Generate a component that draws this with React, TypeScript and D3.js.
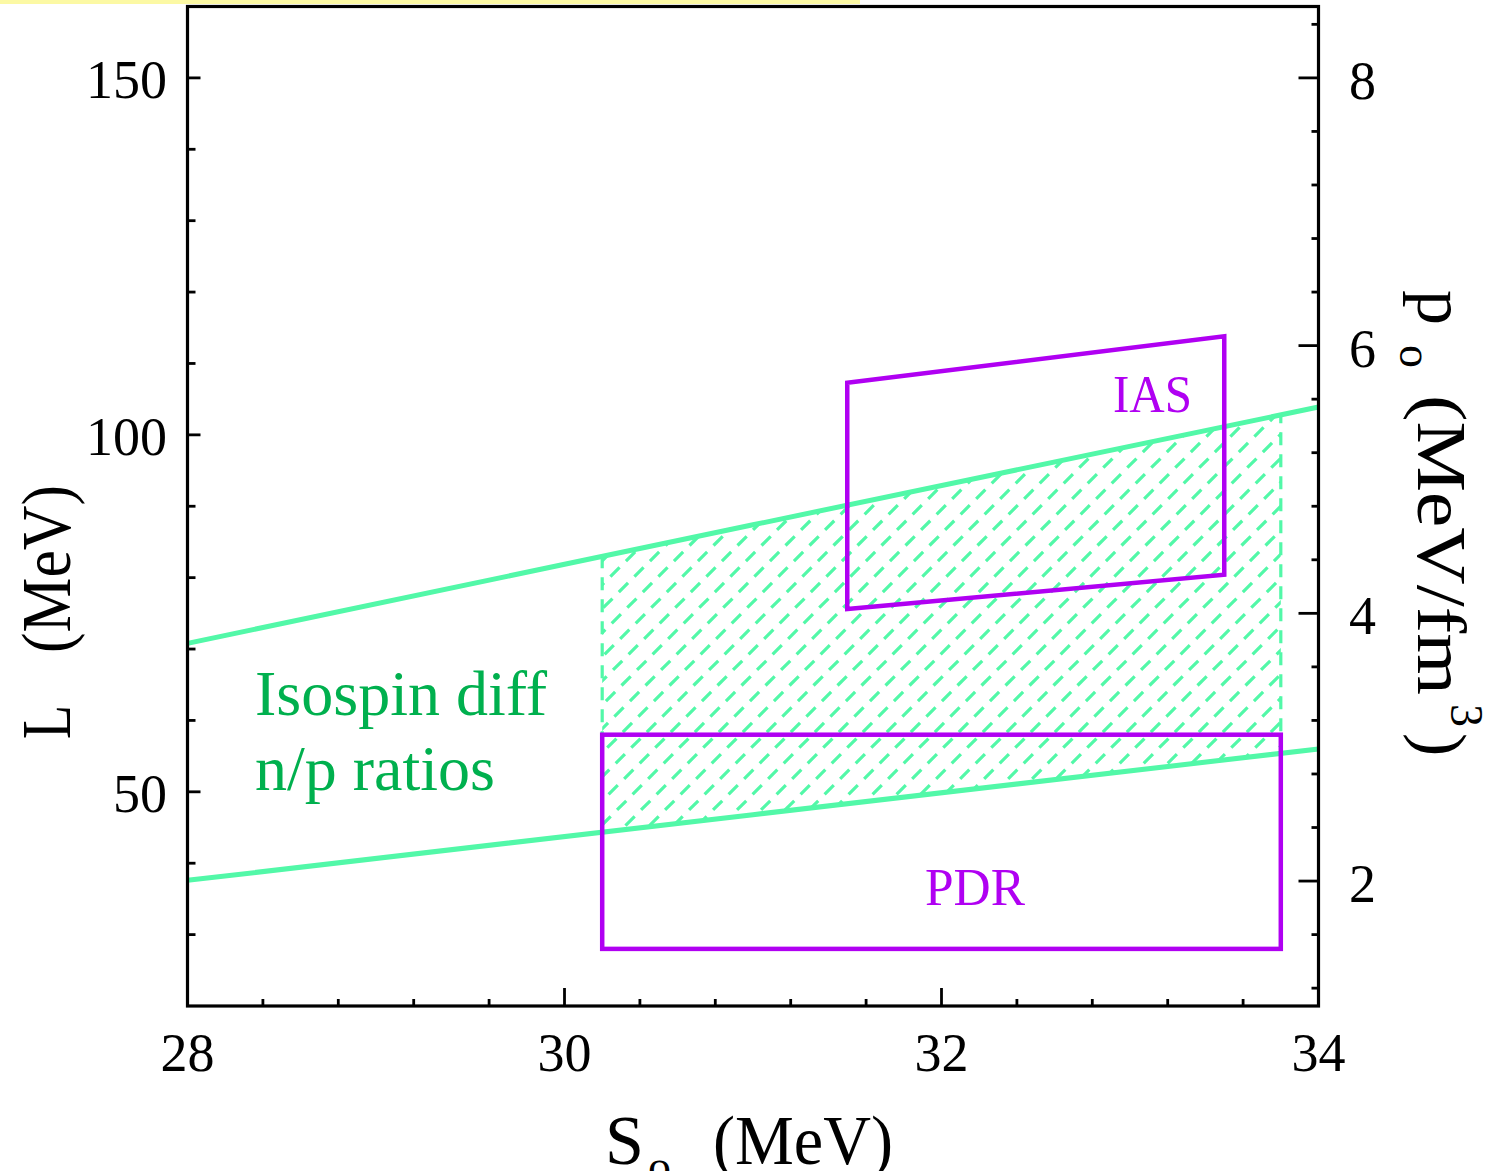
import React from "react";
import * as d3 from "d3";

// ---- data ----
const S_POINTS = [28, 31, 34];
const L_UPPER = [70.8, 87.4, 103.9];
const L_LOWER = [37.6, 46.8, 56.0];
const HATCH_S = [30.2, 33.8];
const PDR_S = [30.2, 33.8];
const PDR_L = [28, 58];
const IAS_S = [31.5, 33.5, 33.5, 31.5];
const IAS_L = [107.3, 113.8, 80.4, 75.6];
const X_TICKS = [28, 30, 32, 34];
const L_TICKS = [50, 100, 150];
const P_TICKS = [2, 4, 6, 8];
const L_TO_P = 18.75; // P0 = L * rho0 / 3

const W = 1491;
const H = 1171;
const GREEN_LINE = "#52f8a8";
const GREEN_TEXT = "#00b04e";
const MAGENTA = "#b000f2";
const FONT = "'Liberation Serif', 'Times New Roman', serif";

export default function App() {
  const x = d3.scaleLinear().domain([28, 34]).range([187.5, 1318.5]);
  const y = d3.scaleLinear().domain([20, 160]).range([1006, 6.5]);
  const yP = d3.scaleLinear().domain([20 / L_TO_P, 160 / L_TO_P]).range([1006, 6.5]);

  const upperData = S_POINTS.map((s, i) => [s, L_UPPER[i]] as [number, number]);
  const lowerData = S_POINTS.map((s, i) => [s, L_LOWER[i]] as [number, number]);
  const line = d3
    .line<[number, number]>()
    .x((d) => x(d[0]))
    .y((d) => y(d[1]));

  const upperAt = d3.scaleLinear().domain(S_POINTS).range(L_UPPER);
  const lowerAt = d3.scaleLinear().domain(S_POINTS).range(L_LOWER);

  // hatched region polygon
  const hs = d3.range(0, 11).map((i) => HATCH_S[0] + ((HATCH_S[1] - HATCH_S[0]) * i) / 10);
  const hatchPoly: [number, number][] = [
    ...hs.map((s) => [x(s), y(lowerAt(s))] as [number, number]),
    ...hs
      .slice()
      .reverse()
      .map((s) => [x(s), y(upperAt(s))] as [number, number]),
  ];
  const hx0 = x(HATCH_S[0]);
  const hx1 = x(HATCH_S[1]);
  const hyTop = y(upperAt(HATCH_S[1]));
  const hyBot = y(lowerAt(HATCH_S[0]));
  const step = 24;
  const cStart = hx0 + hyTop;
  const cEnd = hx1 + hyBot;
  const phase = 1187 % step;
  const hatchC = d3.range(Math.floor(cStart / step) * step + phase - step, cEnd + step, step);

  const iasPts = IAS_S.map((s, i) => `${x(s)},${y(IAS_L[i])}`).join(" ");

  const lMinor = d3.range(30, 160, 10);
  const pMinor = d3.range(3, 22).map((i) => +(i * 0.4).toFixed(2));
  const xMinor = d3.range(1, 15).map((i) => +(28 + i * 0.4).toFixed(2));

  const x0 = x(28);
  const x1 = x(34);
  const y0 = y(20);
  const y1 = y(160);

  return (
    <svg
      width={W}
      height={H}
      style={{ position: "absolute", left: 0, top: 0, display: "block", background: "#fff" }}
      fontFamily={FONT}
    >
      <defs>
        <clipPath id="hatchClip">
          <polygon points={hatchPoly.map((p) => p.join(",")).join(" ")} />
        </clipPath>
      </defs>
      <rect x={0} y={0} width={W} height={H} fill="#fff" />
      <rect x={0} y={0} width={860} height={4} fill="#fcf9a4" />

      {/* hatch */}
      <g clipPath="url(#hatchClip)" stroke={GREEN_LINE} strokeWidth={3.2} strokeDasharray="13 9">
        {hatchC.map((c, i) => (
          <line key={i} x1={c - hyBot - 40} y1={hyBot + 40} x2={c - hyTop + 40} y2={hyTop - 40} />
        ))}
      </g>
      <g stroke={GREEN_LINE} strokeWidth={3.2} strokeDasharray="13 9">
        <line x1={hx0} x2={hx0} y1={y(lowerAt(HATCH_S[0]))} y2={y(upperAt(HATCH_S[0]))} />
        <line x1={hx1} x2={hx1} y1={y(lowerAt(HATCH_S[1]))} y2={y(upperAt(HATCH_S[1]))} />
      </g>

      {/* isospin diffusion band lines */}
      <path d={line(upperData) || ""} fill="none" stroke={GREEN_LINE} strokeWidth={5} />
      <path d={line(lowerData) || ""} fill="none" stroke={GREEN_LINE} strokeWidth={5} />

      {/* PDR box */}
      <rect
        x={x(PDR_S[0])}
        y={y(PDR_L[1])}
        width={x(PDR_S[1]) - x(PDR_S[0])}
        height={y(PDR_L[0]) - y(PDR_L[1])}
        fill="none"
        stroke={MAGENTA}
        strokeWidth={4.5}
      />
      {/* IAS box */}
      <polygon points={iasPts} fill="none" stroke={MAGENTA} strokeWidth={4.5} strokeLinejoin="miter" />

      <text x={1113} y={412} fontSize={52} fill={MAGENTA} textLength={79} lengthAdjust="spacingAndGlyphs">
        IAS
      </text>
      <text x={925} y={905} fontSize={52} fill={MAGENTA} textLength={100} lengthAdjust="spacingAndGlyphs">
        PDR
      </text>
      <text x={255} y={715} fontSize={64} fill={GREEN_TEXT}>
        Isospin diff
      </text>
      <text x={255} y={790} fontSize={64} fill={GREEN_TEXT}>
        n/p ratios
      </text>

      {/* frame */}
      <g stroke="#000" strokeWidth={3.2} fill="none">
        <rect x={x0} y={y1} width={x1 - x0} height={y0 - y1} />
      </g>

      {/* ticks */}
      <g stroke="#000" strokeWidth={2.8}>
        {lMinor.map((v) => {
          const major = L_TICKS.includes(v);
          return <line key={v} x1={x0} x2={x0 + (major ? 13 : 8)} y1={y(v)} y2={y(v)} />;
        })}
        {pMinor.map((v) => {
          const major = P_TICKS.some((t) => Math.abs(t - v) < 1e-6);
          return <line key={"p" + v} x1={x1} x2={x1 - (major ? 20 : 7)} y1={yP(v)} y2={yP(v)} />;
        })}
        {xMinor.map((v) => {
          const major = X_TICKS.some((t) => Math.abs(t - v) < 1e-6);
          return <line key={"x" + v} x1={x(v)} x2={x(v)} y1={y0} y2={y0 - (major ? 18 : 7)} />;
        })}
      </g>

      {/* tick labels */}
      <g fontSize={54} fill="#000">
        {L_TICKS.map((v) => (
          <text key={v} x={167} y={y(v) + 20} textAnchor="end">
            {v}
          </text>
        ))}
        {P_TICKS.map((v) => (
          <text key={v} x={1349} y={yP(v) + 21} textAnchor="start">
            {v}
          </text>
        ))}
        {X_TICKS.map((v) => (
          <text key={v} x={x(v)} y={1071} textAnchor="middle">
            {v}
          </text>
        ))}
      </g>

      {/* left title */}
      <g transform="translate(70,739) rotate(-90)" fontSize={70} fill="#000">
        <text x={0} y={0} textLength={34} lengthAdjust="spacingAndGlyphs">L</text>
        <text x={86} y={0} textLength={168} lengthAdjust="spacingAndGlyphs">(MeV)</text>
      </g>

      {/* bottom title (clipped at the lower edge, as in the reference) */}
      <g fontSize={70} fill="#000">
        <text x={605} y={1164}>S</text>
        <text x={648} y={1182} fontSize={46}>o</text>
        <text x={713} y={1164} textLength={180} lengthAdjust="spacingAndGlyphs">(MeV)</text>
      </g>

      {/* right title */}
      <g transform="translate(1418,290) rotate(90)" fontSize={70} fill="#000">
        <text x={0} y={0}>p</text>
        <text x={55} y={18} fontSize={46}>o</text>
        <text x={105} y={0} textLength={300} lengthAdjust="spacingAndGlyphs">(MeV/fm</text>
        <text x={414} y={-33} fontSize={46}>3</text>
        <text x={443} y={0}>)</text>
      </g>
    </svg>
  );
}
